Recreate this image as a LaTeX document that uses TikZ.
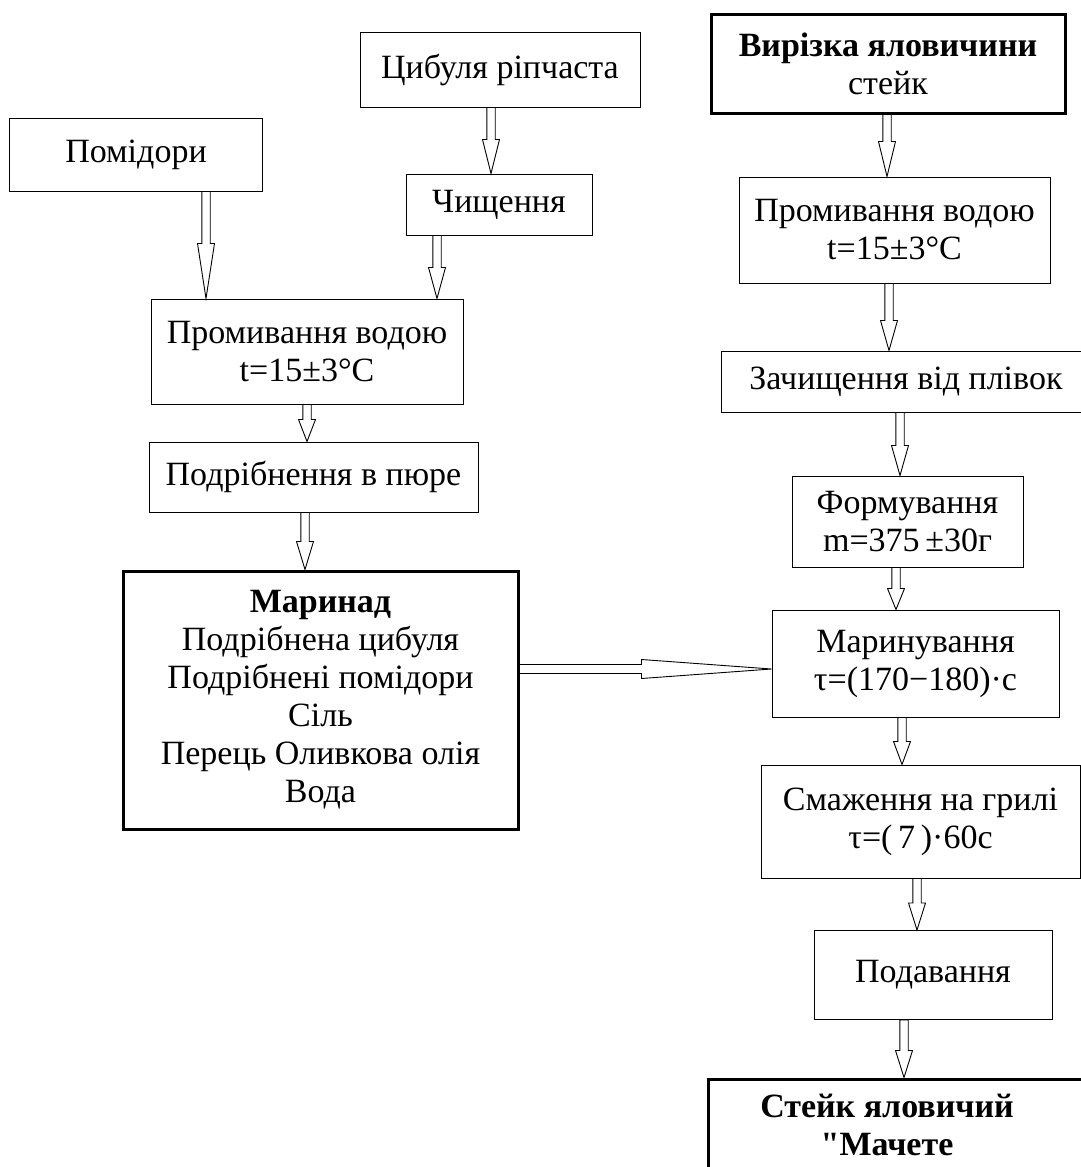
\documentclass[tikz,border=0pt]{standalone}
\usepackage{fontspec}
\setmainfont{Liberation Serif}[Ligatures=TeXOff]
\usetikzlibrary{calc}
\newcommand\myfs{\fontsize{34}{38}\selectfont}
\tikzset{
  box/.style={draw, line width=1pt, inner sep=0pt, align=center, font=\myfs},
  thickbox/.style={box, line width=3pt},
  blockarr/.style={draw, fill=white, line width=0.9pt, line join=miter}
}
% #1 x, #2 source node, #3 target node, #4 head length
\newcommand\varr[4]{%
  \path (#1,0 |- #2.south) coordinate (s) (#1,0 |- #3.north) coordinate (t);
  \draw[blockarr] ($(s)+(-4.2,0)$) -- ($(t)+(-4.2,-#4)$) -- ($(t)+(-8.5,-#4)$) -- (t)
     -- ($(t)+(8.5,-#4)$) -- ($(t)+(4.2,-#4)$) -- ($(s)+(4.2,0)$) -- cycle;}
\begin{document}
\begin{tikzpicture}[x=1pt,y=-1pt]
\useasboundingbox (0,0) rectangle (1081,1167);
\clip (0,0) rectangle (1081,1167);

% left branch
\node[box, minimum width=253, minimum height=73] (pom) at (136,154.5) {Помідори};
\node[box, minimum width=280, minimum height=75] (cyb) at (500,69.5) {Цибуля ріпчаста};
\node[box, minimum width=186, minimum height=61] (chy) at (499,204.5) {Чищення};
\node[box, minimum width=312, minimum height=105] (prom1) at (307,351.5) {Промивання водою\\t=15±3°C};
\node[box, minimum width=329, minimum height=70] (podr) at (313.5,477) {Подрібнення в пюре};
\node[thickbox, minimum width=395, minimum height=258] (mar) at (320.5,700)
  {\textbf{Маринад}\\Подрібнена цибуля\\Подрібнені помідори\\Сіль\\Перець Оливкова олія\\Вода};

% right branch
\node[thickbox, minimum width=354, minimum height=99] (vir) at (888,63.5) {\textbf{Вирізка яловичини}\\стейк};
\node[box, minimum width=311, minimum height=106] (prom2) at (894.5,230) {Промивання водою\\t=15±3°C};
\node[box, minimum width=370, minimum height=61] (zach) at (906,381.5) {Зачищення від плівок};
\node[box, minimum width=231, minimum height=91] (form) at (907.5,521.5) {Формування\\m=375\,±30г};
\node[box, minimum width=287, minimum height=107] (marv) at (915.5,663.5) {Маринування\\τ=(170−180)·с};
\node[box, minimum width=319, minimum height=113] (smazh) at (920.5,821.5) {Смаження на грилі\\τ=(\,7\,)·60с};
\node[box, minimum width=238, minimum height=89] (podav) at (933,975) {Подавання};
\node[thickbox, minimum width=402, minimum height=121] (steik) at (909,1139.5) {};
\node[font=\myfs, align=center, inner sep=0pt] (steiktext) at (887,1125)
  {\textbf{Стейк яловичий}\\\textbf{"Мачете}};

% vertical block arrows
\varr{206}{pom}{prom1}{55}
\varr{491}{cyb}{chy}{34}
\varr{437}{chy}{prom1}{31}
\varr{307}{prom1}{podr}{22}
\varr{305}{podr}{mar}{28}
\varr{887}{vir}{prom2}{35}
\varr{889}{prom2}{zach}{30}
\varr{900}{zach}{form}{30}
\varr{896}{form}{marv}{21}
\varr{902}{marv}{smazh}{23}
\varr{917}{smazh}{podav}{27}
\varr{904}{podav}{steik}{27}

% horizontal block arrow
\path (mar.east |- 0,669) coordinate (hs) (marv.west |- 0,669) coordinate (ht);
\draw[blockarr] ($(hs)+(0,-4.5)$) -- ($(ht)+(-130,-4.5)$) -- ($(ht)+(-130,-9.5)$) -- (ht)
   -- ($(ht)+(-130,9.5)$) -- ($(ht)+(-130,4.5)$) -- ($(hs)+(0,4.5)$) -- cycle;
\end{tikzpicture}
\end{document}
